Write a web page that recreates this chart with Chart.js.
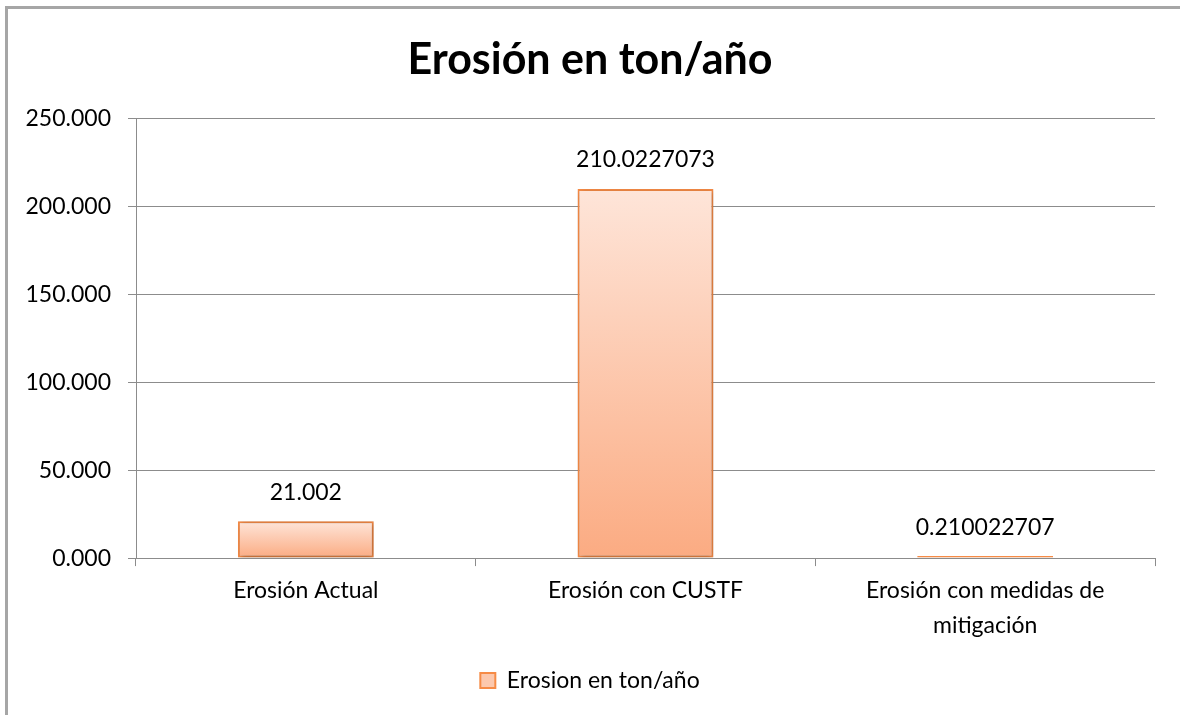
<!DOCTYPE html>
<html>
<head>
<meta charset="utf-8">
<script src="https://cdn.jsdelivr.net/npm/chart.js@4.4.1/dist/chart.umd.min.js"></script>
<style>
    html, body { margin: 0; padding: 0; background: #fff; }
    #wrap { position: relative; width: 1180px; height: 715px; }
    #frame {
        position: absolute; left: 5px; top: 6px; right: 0; bottom: 0;
        border-left: 3px solid #a6a6a6; border-top: 3px solid #a6a6a6;
    }
    canvas { position: absolute; left: 0; top: 0; }
</style>
</head>
<body>
<div id="wrap">
    <div id="frame"></div>
    <canvas id="erosionChart" width="1180" height="715"></canvas>
</div>
<script>
const categories = ['Erosión Actual', 'Erosión con CUSTF', ['Erosión con medidas de', 'mitigación']];
const erosionValues = [21.002, 210.0227073, 0.210022707];
const seriesLabel = 'Erosion en ton/año';
const yTicks = [0, 50, 100, 150, 200, 250];

const FONT = "Lato, 'Open Sans', sans-serif";
const LABEL_SIZE = 23;

function barGradient(context) {
    const chart = context.chart;
    const { ctx, chartArea, scales } = chart;
    if (!chartArea || context.dataIndex === undefined) return '#fcc8ad';
    const top = scales.y.getPixelForValue(context.raw);
    const base = scales.y.getPixelForValue(0);
    if (base - top < 3) return '#f68b46';
    const g = ctx.createLinearGradient(0, top, 0, base);
    g.addColorStop(0, '#fee5d9');
    g.addColorStop(1, '#fbab82');
    return g;
}

// soft shadow behind the bars
const barShadow = {
    id: 'barShadow',
    beforeDatasetsDraw(chart) {
        const ctx = chart.ctx;
        ctx.save();
        ctx.shadowColor = 'rgba(0, 0, 0, 0.35)';
        ctx.shadowBlur = 5;
        ctx.shadowOffsetX = 1;
        ctx.shadowOffsetY = 1;
    },
    afterDatasetsDraw(chart) {
        chart.ctx.restore();
    }
};

// value labels above each bar
const valueLabels = {
    id: 'valueLabels',
    afterDraw(chart) {
        const ctx = chart.ctx;
        const meta = chart.getDatasetMeta(0);
        ctx.save();
        ctx.font = LABEL_SIZE + 'px ' + FONT;
        ctx.fillStyle = '#000';
        ctx.textAlign = 'center';
        ctx.textBaseline = 'middle';
        meta.data.forEach((bar, i) => {
            ctx.fillText(String(erosionValues[i]), bar.x, bar.y - 29);
        });
        ctx.restore();
    }
};

new Chart(document.getElementById('erosionChart'), {
    type: 'bar',
    data: {
        labels: categories,
        datasets: [{
            label: seriesLabel,
            data: erosionValues,
            backgroundColor: barGradient,
            borderColor: '#f68b46',
            borderWidth: 2,
            borderSkipped: false,
            minBarLength: 2,
            categoryPercentage: 1,
            barPercentage: 0.4
        }]
    },
    options: {
        responsive: false,
        animation: false,
        layout: { padding: { left: 25, right: 25, top: 0, bottom: 13 } },
        plugins: {
            title: {
                display: true,
                text: 'Erosión en ton/año',
                color: '#000',
                font: { family: FONT, size: 43, weight: 'bold' },
                padding: { top: 34, bottom: 33 }
            },
            legend: {
                position: 'bottom',
                labels: {
                    color: '#000',
                    font: { family: FONT, size: LABEL_SIZE },
                    boxWidth: 15,
                    boxHeight: 15,
                    padding: 19,
                    generateLabels(chart) {
                        return [{
                            text: seriesLabel,
                            fillStyle: '#fcc8ad',
                            strokeStyle: '#f68b46',
                            lineWidth: 2,
                            datasetIndex: 0
                        }];
                    }
                }
            },
            tooltip: { enabled: false }
        },
        scales: {
            y: {
                min: 0,
                max: 250,
                afterBuildTicks(scale) {
                    scale.ticks = yTicks.map(v => ({ value: v }));
                },
                afterFit(scale) {
                    scale.width = 111;
                },
                ticks: {
                    color: '#000',
                    font: { family: FONT, size: LABEL_SIZE },
                    padding: 17,
                    callback: v => v.toFixed(3)
                },
                grid: { color: '#8c8c8c', lineWidth: 1, tickLength: 8 },
                border: { color: '#8c8c8c', width: 1 }
            },
            x: {
                ticks: {
                    color: '#000',
                    font: { family: FONT, size: LABEL_SIZE, lineHeight: 1.52 },
                    padding: 7,
                    maxRotation: 0
                },
                grid: { offset: true, drawOnChartArea: false, color: '#8c8c8c', tickLength: 8 },
                border: { color: '#8c8c8c', width: 1 }
            }
        }
    },
    plugins: [barShadow, valueLabels]
});
</script>
</body>
</html>
